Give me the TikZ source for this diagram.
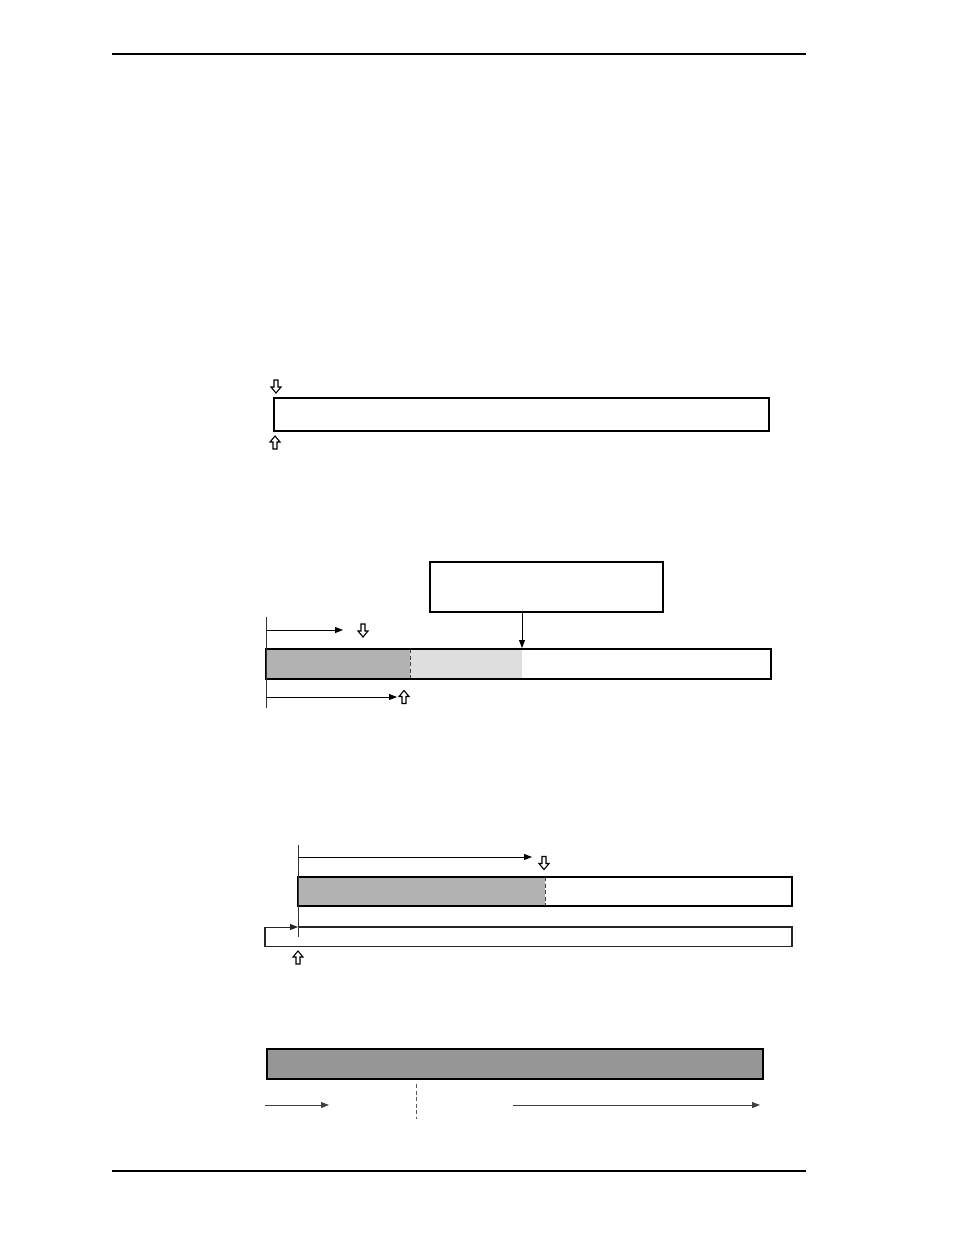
\documentclass[tikz,border=0pt]{standalone}
\usetikzlibrary{arrows.meta}
\begin{document}
\begin{tikzpicture}[x=1pt,y=-1pt,
  barbox/.style={draw=black,line width=2.4pt},
  thinbox/.style={draw=black!85,line width=1.3pt},
  conn/.style={draw=black,line width=0.9pt,-{Triangle[length=8pt,width=6pt]}},
  guide/.style={draw=black!80,line width=1pt},
  dashsep/.style={draw=black!75,line width=1pt,dash pattern=on 4pt off 2.5pt},
  darkfill/.style={fill=black!30},
  lightfill/.style={fill=black!13},
  hollowdown/.pic={\draw[line width=1.1pt,fill=white] (-2,-6.5) -- (-2,0.5) -- (-5,0.5) -- (0,6.5) -- (5,0.5) -- (2,0.5) -- (2,-6.5) -- cycle;},
  hollowup/.pic={\draw[line width=1.1pt,fill=white] (-2,6.5) -- (-2,-0.5) -- (-5,-0.5) -- (0,-6.5) -- (5,-0.5) -- (2,-0.5) -- (2,6.5) -- cycle;}
]
\useasboundingbox (0,0) rectangle (954,1235);
% page rules
\draw[line width=1.3pt] (112,54) -- (806,54);
\draw[line width=2.6pt] (112,1171) -- (806,1171);

% ---- diagram 1
\coordinate (b1nw) at (274,398);
\coordinate (b1se) at (769,431);
\draw[barbox,line width=2.8pt] (b1nw) rectangle (b1se);
\pic at (276,386.5) {hollowdown};
\pic at (275,442.5) {hollowup};

% ---- diagram 2
\node[draw=black,line width=2pt,minimum width=233pt,minimum height=50pt,inner sep=0pt] (top2) at (546.5,587) {};
\coordinate (b2nw) at (266,649);
\coordinate (b2se) at (771,679);
\coordinate (b2mark) at (522,648);
\fill[darkfill] (266,649) rectangle (410,679);
\fill[lightfill] (410,649) rectangle (522,679);
\draw[dashsep] (410,649) -- (410,679);
\draw[barbox,line width=2pt] (b2nw) rectangle (b2se);
\draw[conn] (top2.south -| b2mark) -- (b2mark);
\coordinate (v2t) at (266,617);
\coordinate (v2b) at (266,708);
\draw[guide] (v2t) -- (v2b);
\coordinate (a2e) at (343,630);
\draw[conn] (266,630) -- (a2e);
\pic at (363,630.5) {hollowdown};
\coordinate (a3e) at (397,697);
\draw[conn] (266,697) -- (a3e);
\pic at (404,697) {hollowup};

% ---- diagram 3
\coordinate (v3t) at (298,845);
\coordinate (v3b) at (298,937);
\fill[darkfill] (298,877) rectangle (545,906);
\draw[dashsep] (545,877) -- (545,906);
\draw[barbox,line width=2pt] (298,877) rectangle (792,906);
\draw[thinbox] (298,927) -- (792,927) -- (792,946.5) -- (265,946.5) -- (265,927);
\draw[conn,draw=black!85] (265,927) -- (298,927);
\draw[guide] (v3t) -- (v3b);
\coordinate (a4e) at (532,857);
\draw[conn] (298,857) -- (a4e);
\pic at (544,863) {hollowdown};
\pic at (298,957.5) {hollowup};

% ---- diagram 4
\draw[barbox,fill=black!41] (267,1049) rectangle (763,1079);
\draw[dashsep,draw=black!65] (416,1084) -- (416,1119);
\coordinate (a5s) at (265,1105);
\coordinate (a5e) at (329,1105);
\draw[conn,draw=black!75] (a5s) -- (a5e);
\coordinate (a6s) at (513,1105);
\coordinate (a6e) at (760,1105);
\draw[conn,draw=black!75] (a6s) -- (a6e);
\end{tikzpicture}
\end{document}
